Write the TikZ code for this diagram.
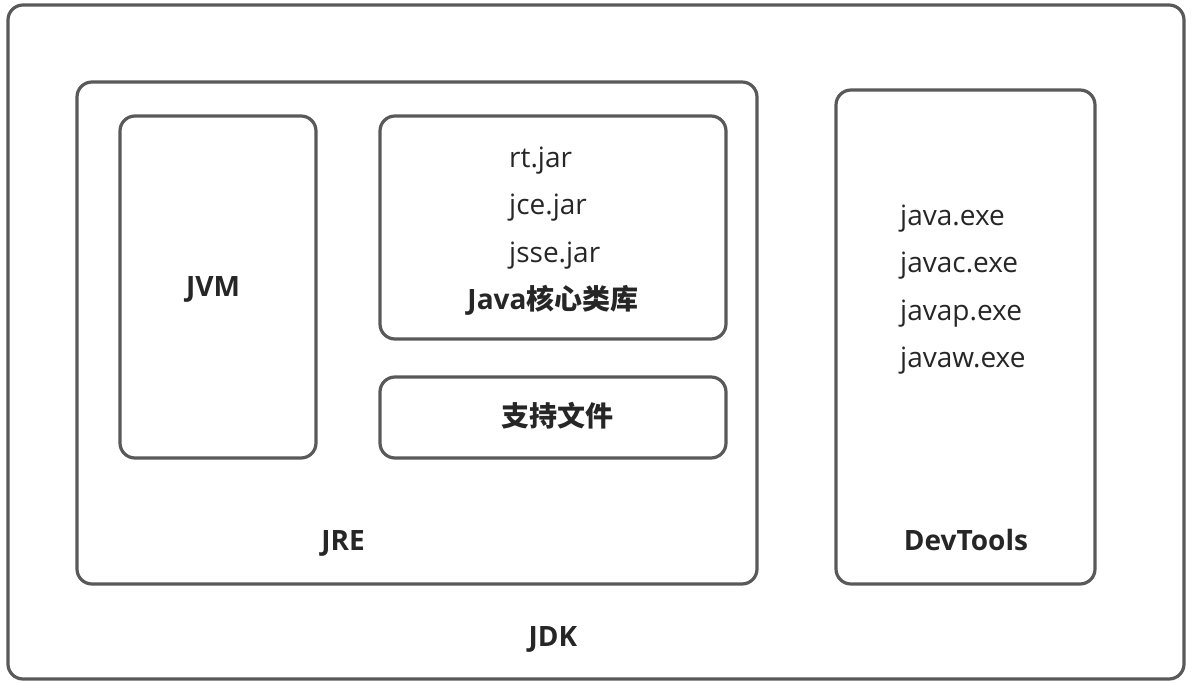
\documentclass[tikz,border=0pt]{standalone}
\usepackage{fontspec}
\setmainfont{Open Sans}
\newfontfamily\cjk{Noto Sans CJK SC}
\definecolor{edge}{HTML}{595959}
\definecolor{ink}{HTML}{262626}
\tikzset{
  box/.style={draw=edge, line width=3.2pt, rounded corners=15pt, inner sep=0pt},
  txt/.style={inner sep=0pt, text=ink, font=\fontsize{28}{30}\selectfont},
  btxt/.style={inner sep=0pt, text=ink, font=\fontsize{28}{30}\selectfont\bfseries},
}
\begin{document}
\begin{tikzpicture}[x=1pt,y=-1pt]
\useasboundingbox (0,0) rectangle (1192,684);
\node[box, minimum width=1176pt, minimum height=674pt] (jdk) at (596,342) {};
\node[box, minimum width=680pt, minimum height=502pt] (jre) at (417,333) {};
\node[box, minimum width=196pt, minimum height=342pt] (jvm) at (218,287) {};
\node[box, minimum width=346pt, minimum height=223pt] (core) at (553,227.5) {};
\node[box, minimum width=346pt, minimum height=81pt] (support) at (553,417.5) {};
\node[box, minimum width=259pt, minimum height=494pt] (dev) at (965.5,337) {};

\node[btxt, anchor=base] (jvmlabel) at (213,297) {JVM};
\node[txt, anchor=base west] (rt) at (509,168) {rt.jar};
\node[txt, anchor=base west] (jce) at (509,215) {jce.jar};
\node[txt, anchor=base west] (jsse) at (509,263) {jsse.jar};
\node[btxt, anchor=base] (corelabel) at (553,310) {Java{\cjk\bfseries 核心类库}};
\node[btxt, anchor=base] (supportlabel) at (557,427) {{\cjk\bfseries 支持文件}};
\node[btxt, anchor=base] (jrelabel) at (343,550) {JRE};
\node[btxt, anchor=base] (jdklabel) at (553,646) {JDK};
\node[btxt, anchor=base] (devlabel) at (966,550) {DevTools};
\node[txt, anchor=base west] (javaexe) at (900,226) {java.exe};
\node[txt, anchor=base west] (javacexe) at (900,273) {javac.exe};
\node[txt, anchor=base west] (javapexe) at (900,321) {javap.exe};
\node[txt, anchor=base west] (javawexe) at (900,368) {javaw.exe};
\end{tikzpicture}
\end{document}
